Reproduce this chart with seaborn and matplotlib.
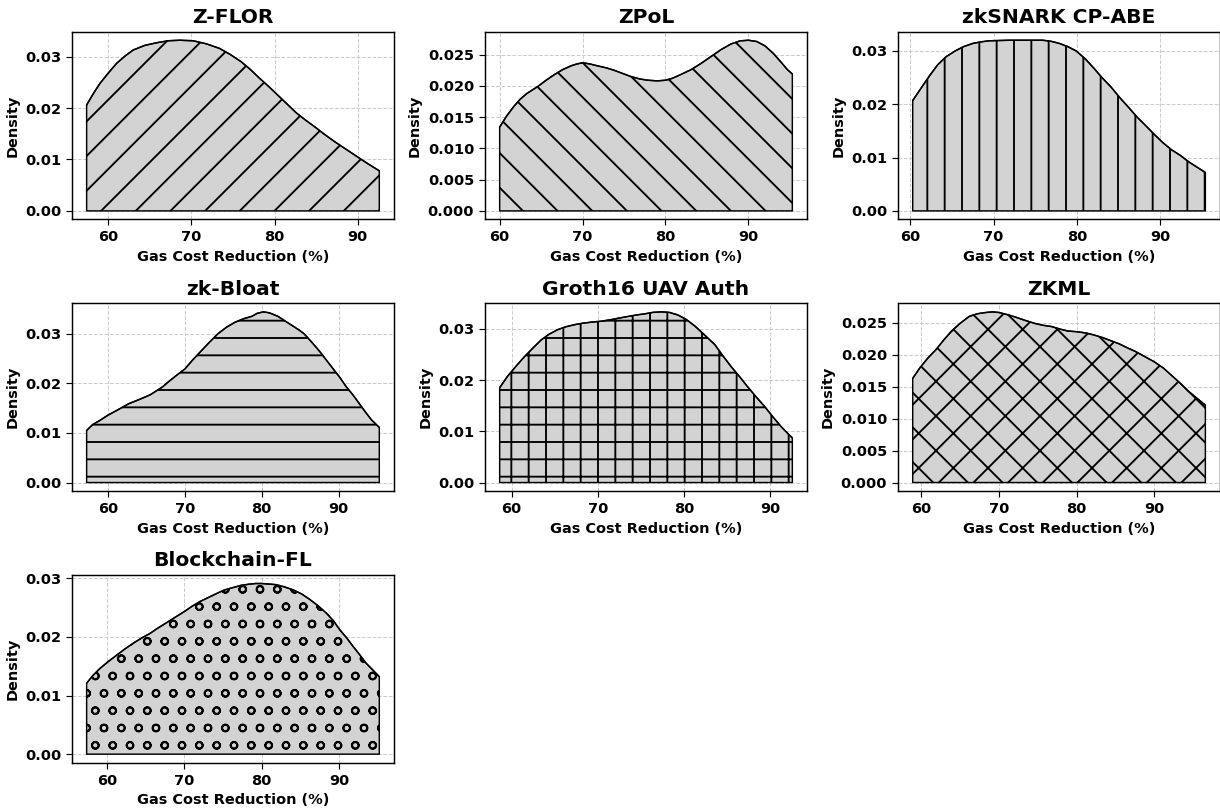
import numpy as np
import pandas as pd
import matplotlib
matplotlib.use("Agg")
import matplotlib.pyplot as plt
from matplotlib.ticker import MultipleLocator
import seaborn as sns

# Estimated density curves of gas-cost reduction (%) for each scheme
zflor_x = [57.4, 58.2, 59.0, 60.0, 61.0, 62.0, 63.0, 64.4, 65.8, 67.2, 68.6, 70.2, 71.8, 73.4, 74.7,
           76.0, 77.1, 78.2, 79.3, 80.4, 81.5, 82.6, 83.7, 84.8, 86.0, 87.2, 88.5, 89.8, 91.2, 92.6]
zflor_y = [0.0206, 0.0228, 0.0248, 0.0268, 0.0287, 0.0301, 0.0313, 0.0322, 0.0327, 0.0331, 0.0332,
           0.0331, 0.0325, 0.0316, 0.0304, 0.0290, 0.0275, 0.0258, 0.0242, 0.0225, 0.0208, 0.0191,
           0.0177, 0.0164, 0.0149, 0.0135, 0.0121, 0.0107, 0.0092, 0.0078]

zpol_x = [60.0, 60.8, 61.7, 62.5, 63.3, 64.6, 65.6, 66.6, 67.6, 68.6, 69.3, 70.0, 70.9, 71.8, 72.8,
          73.8, 74.8, 75.8, 76.9, 77.9, 79.0, 80.0, 80.8, 81.5, 82.3, 83.1, 84.3, 85.5, 86.7, 87.9,
          89.0, 90.0, 91.0, 92.0, 93.0, 94.0, 94.7, 95.3]
zpol_y = [0.0134, 0.0151, 0.0167, 0.0179, 0.0188, 0.0199, 0.0209, 0.0218, 0.0226, 0.0232, 0.0235,
          0.0237, 0.0235, 0.0232, 0.0229, 0.0225, 0.0220, 0.0215, 0.0211, 0.0209, 0.0208, 0.0209,
          0.0212, 0.0216, 0.0221, 0.0226, 0.0236, 0.0247, 0.0258, 0.0267, 0.0272, 0.0273, 0.0271,
          0.0264, 0.0252, 0.0237, 0.0226, 0.0219]

cpabe_x = [60.3, 61.3, 62.3, 63.3, 64.3, 65.4, 66.4, 67.5, 68.5, 69.5, 71.9, 74.0, 75.9, 76.9, 77.9,
           78.9, 79.9, 81.0, 82.0, 83.0, 84.1, 85.1, 86.2, 87.2, 88.3, 89.3, 90.3, 91.3, 92.4, 93.4,
           94.5, 95.4]
cpabe_y = [0.0207, 0.0230, 0.0253, 0.0274, 0.0289, 0.0300, 0.0308, 0.0314, 0.0317, 0.0319, 0.0320,
           0.0320, 0.0320, 0.0318, 0.0314, 0.0308, 0.0300, 0.0285, 0.0268, 0.0250, 0.0232, 0.0213,
           0.0194, 0.0176, 0.0159, 0.0143, 0.0128, 0.0115, 0.0104, 0.0092, 0.0081, 0.0072]

bloat_x = [57.2, 58.0, 58.9, 60.0, 61.2, 62.7, 64.0, 65.5, 67.1, 68.0, 68.9, 70.0, 71.0, 72.1, 73.2,
           74.3, 75.4, 76.5, 77.6, 78.7, 79.4, 80.2, 81.0, 82.1, 83.0, 84.0, 84.8, 85.5, 86.5, 87.5,
           88.4, 89.3, 90.2, 91.0, 91.9, 92.7, 93.5, 94.3, 95.3]
bloat_y = [0.0105, 0.0117, 0.0125, 0.0136, 0.0146, 0.0159, 0.0167, 0.0177, 0.0193, 0.0205, 0.0216,
           0.0229, 0.0247, 0.0265, 0.0283, 0.0300, 0.0313, 0.0323, 0.0330, 0.0335, 0.0341, 0.0344,
           0.0342, 0.0335, 0.0326, 0.0316, 0.0308, 0.0300, 0.0283, 0.0265, 0.0247, 0.0229, 0.0211,
           0.0193, 0.0176, 0.0159, 0.0142, 0.0126, 0.0111]

groth_x = [58.6, 59.5, 60.5, 61.5, 62.5, 63.4, 64.3, 65.3, 66.3, 67.3, 68.3, 69.3, 70.5, 71.6, 72.5,
           73.5, 74.5, 75.4, 76.4, 77.4, 78.3, 79.3, 80.3, 81.3, 82.4, 83.6, 84.5, 85.5, 86.5, 87.4,
           88.4, 89.4, 90.3, 91.3, 92.0, 92.6]
groth_y = [0.0185, 0.0207, 0.0227, 0.0246, 0.0263, 0.0278, 0.0289, 0.0298, 0.0304, 0.0308, 0.0311,
           0.0313, 0.0315, 0.0318, 0.0321, 0.0324, 0.0327, 0.0329, 0.0332, 0.0333, 0.0332, 0.0327,
           0.0318, 0.0305, 0.0288, 0.0269, 0.0248, 0.0226, 0.0206, 0.0187, 0.0167, 0.0148, 0.0129,
           0.0109, 0.0097, 0.0087]

zkml_x = [58.9, 59.8, 60.8, 61.9, 62.9, 63.9, 65.0, 66.2, 67.2, 68.3, 69.2, 70.0, 71.0, 72.1, 73.3,
          74.6, 75.7, 76.8, 77.9, 78.9, 80.0, 81.2, 82.2, 83.3, 84.4, 85.5, 86.5, 87.6, 88.8, 90.0,
          91.2, 92.3, 93.4, 94.5, 95.6, 96.6]
zkml_y = [0.0163, 0.0179, 0.0194, 0.0208, 0.0223, 0.0237, 0.0249, 0.0260, 0.0264, 0.0266, 0.0267,
          0.0266, 0.0263, 0.0259, 0.0254, 0.0249, 0.0246, 0.0244, 0.0240, 0.0237, 0.0236, 0.0234,
          0.0231, 0.0227, 0.0222, 0.0217, 0.0211, 0.0205, 0.0197, 0.0189, 0.0179, 0.0167, 0.0155,
          0.0142, 0.0131, 0.0121]

bcfl_x = [57.4, 58.2, 59.1, 60.2, 61.3, 62.3, 63.4, 64.5, 65.6, 66.6, 67.7, 68.9, 70.0, 71.0, 72.0,
          73.1, 74.2, 75.2, 76.3, 77.4, 78.5, 79.2, 80.0, 81.0, 81.9, 83.0, 84.1, 85.2, 86.2, 87.3,
          88.4, 89.3, 90.1, 91.0, 91.8, 92.7, 93.5, 94.4, 95.2]
bcfl_y = [0.0121, 0.0134, 0.0146, 0.0158, 0.0169, 0.0179, 0.0189, 0.0198, 0.0206, 0.0215, 0.0224,
          0.0234, 0.0243, 0.0252, 0.0260, 0.0267, 0.0274, 0.0280, 0.0284, 0.0288, 0.0290, 0.0291,
          0.0291, 0.0290, 0.0289, 0.0285, 0.0280, 0.0273, 0.0264, 0.0253, 0.0240, 0.0227, 0.0212,
          0.0198, 0.0184, 0.0169, 0.0155, 0.0143, 0.0132]

titles = ["Z-FLOR", "ZPoL", "zkSNARK CP-ABE", "zk-Bloat",
          "Groth16 UAV Auth", "ZKML", "Blockchain-FL"]
curves_x = [zflor_x, zpol_x, cpabe_x, bloat_x, groth_x, zkml_x, bcfl_x]
curves_y = [zflor_y, zpol_y, cpabe_y, bloat_y, groth_y, zkml_y, bcfl_y]
hatches = ["/", "\\", "|", "-", "+", "x", "o"]
ytick_steps = [0.01, 0.005, 0.01, 0.01, 0.01, 0.005, 0.01]

sns.set_style("ticks", {"axes.grid": True, "grid.linestyle": "--",
                        "axes.edgecolor": "black"})
plt.rcParams["font.family"] = ["DejaVu Sans"]
plt.rcParams["font.weight"] = "bold"
plt.rcParams["axes.labelweight"] = "bold"
plt.rcParams["axes.titleweight"] = "bold"
plt.rcParams["text.color"] = "black"
plt.rcParams["axes.labelcolor"] = "black"
plt.rcParams["xtick.color"] = "black"
plt.rcParams["ytick.color"] = "black"
plt.rcParams["hatch.linewidth"] = 1.3

W, H, DPI = 1220, 812, 104
fig, axes = plt.subplots(3, 3, figsize=(W / DPI, H / DPI), dpi=DPI)
fig.subplots_adjust(left=72 / W, right=1.0, top=1 - 31.7 / H,
                    bottom=1 - 762.7 / H, wspace=0.283, hspace=0.447)

for idx, ax in enumerate(axes.flat):
    if idx >= len(titles):
        ax.remove()
        continue
    df = pd.DataFrame({"x": curves_x[idx], "y": curves_y[idx]})
    ax.fill_between(df["x"], 0, df["y"], facecolor="lightgray",
                    edgecolor="black", hatch=hatches[idx], linewidth=1.0)
    sns.lineplot(data=df, x="x", y="y", ax=ax, color="black", linewidth=1.0)
    ax.yaxis.set_major_locator(MultipleLocator(ytick_steps[idx]))
    ax.set_title(titles[idx], fontsize=14, fontweight="bold")
    ax.set_xlabel("Gas Cost Reduction (%)", fontsize=10, fontweight="bold")
    ax.set_ylabel("Density", fontsize=10, fontweight="bold")
    ax.tick_params(labelsize=10, length=4, color="black")
    ax.grid(True, linestyle="--", color="#cccccc", linewidth=0.7)
    ax.set_axisbelow(True)
    for sp in ax.spines.values():
        sp.set_linewidth(1.0)

fig.savefig("out.png", dpi=DPI)
